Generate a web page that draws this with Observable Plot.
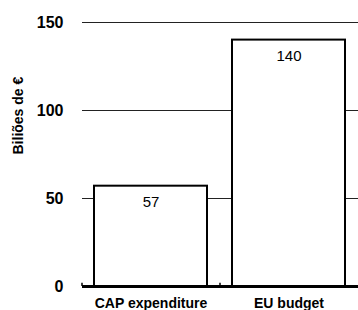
<!DOCTYPE html>
<html><head><meta charset="utf-8">
<script src="https://cdn.jsdelivr.net/npm/d3@7"></script>
<script src="https://cdn.jsdelivr.net/npm/@observablehq/plot@0.6"></script>
<style>
body{margin:0;background:#fff;}
#chart svg{display:block;}
</style></head>
<body><div id="chart"></div>
<script>
const categories = ["CAP expenditure", "EU budget"];
const values = [57, 140];
const yTicks = [0, 50, 100, 150];
const yLabel = "Biliões de €";

const data = categories.map((c, i) => ({category: c, value: values[i]}));
const font = "'Liberation Sans', Arial, Helvetica, sans-serif";

const chart = Plot.plot({
  width: 358,
  height: 310,
  marginLeft: 82,
  marginRight: 0,
  marginTop: 22,
  marginBottom: 24,
  style: {fontFamily: font, fontSize: "14px", color: "#000", background: "#fff"},
  x: {domain: categories, paddingInner: 0.18, paddingOuter: 0.09, label: null},
  y: {domain: [0, 150], label: null},
  marks: [
    Plot.ruleY(yTicks.filter(d => d > 0), {stroke: "#222", strokeWidth: 1}),
    Plot.barY(data, {x: "category", y: "value", fill: "#fff", stroke: "#000", strokeWidth: 2}),
    Plot.text(data, {x: "category", y: "value", text: d => String(d.value), dy: 16, fontSize: 15, fill: "#000"}),
    Plot.ruleX(categories, {x: d => d, y1: 0, y2: 1.8, dx: -69, stroke: "#000", strokeWidth: 1.5}),
    Plot.ruleY([0], {stroke: "#000", strokeWidth: 3}),
    Plot.axisY({ticks: yTicks, tickSize: 0, tickPadding: 19, fontWeight: "bold", fontSize: 16, label: null}),
    Plot.axisX({tickSize: 0, tickPadding: 12, fontWeight: "bold", fontSize: 14, label: null}),
    Plot.text([yLabel], {frameAnchor: "left", dx: -64, rotate: -90, fontWeight: "bold", fontSize: 14, fill: "#000"})
  ]
});
document.getElementById("chart").append(chart);
</script></body></html>
